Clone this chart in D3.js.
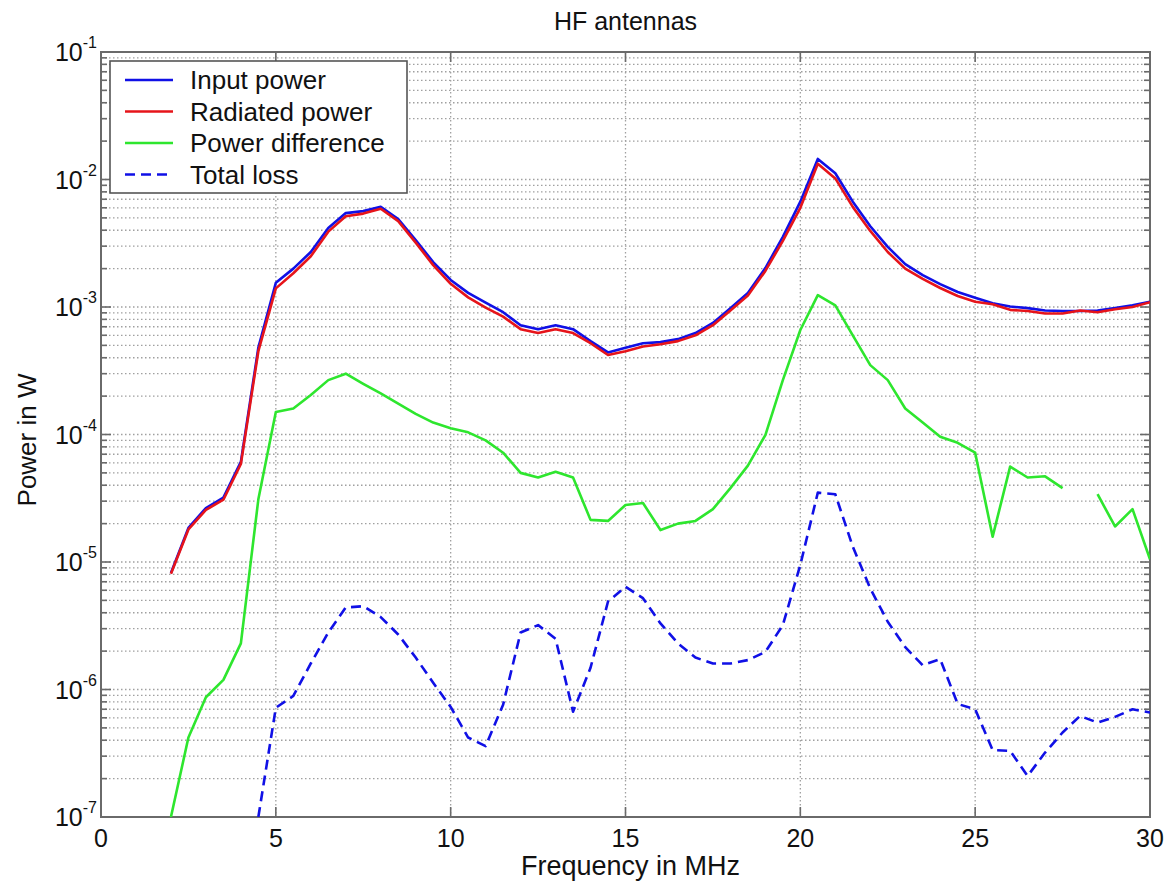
<!DOCTYPE html>
<html>
<head>
<meta charset="utf-8">
<script src="https://cdn.jsdelivr.net/npm/d3@7"></script>
<style>
html,body{margin:0;padding:0;background:#fff;}
svg{display:block;font-family:"Liberation Sans",Arial,sans-serif;}
</style>
</head>
<body>
<svg id="chart" width="1167" height="883"></svg>
<script>
const freq = [2,2.5,3,3.5,4,4.5,5,5.5,6,6.5,7,7.5,8,8.5,9,9.5,10,10.5,11,11.5,12,12.5,13,13.5,14,14.5,15,15.5,16,16.5,17,17.5,18,18.5,19,19.5,20,20.5,21,21.5,22,22.5,23,23.5,24,24.5,25,25.5,26,26.5,27,27.5,28,28.5,29,29.5,30];

const inputPower = [8.2e-6,1.85e-5,2.65e-5,3.2e-5,6.1e-5,4.8e-4,1.55e-3,2.0e-3,2.7e-3,4.17e-3,5.45e-3,5.65e-3,6.1e-3,4.9e-3,3.35e-3,2.25e-3,1.63e-3,1.29e-3,1.08e-3,9.1e-4,7.2e-4,6.7e-4,7.2e-4,6.7e-4,5.4e-4,4.4e-4,4.8e-4,5.2e-4,5.3e-4,5.6e-4,6.25e-4,7.5e-4,9.8e-4,1.29e-3,2.02e-3,3.55e-3,6.7e-3,1.45e-2,1.12e-2,6.7e-3,4.3e-3,2.96e-3,2.17e-3,1.78e-3,1.51e-3,1.31e-3,1.18e-3,1.07e-3,1.01e-3,9.8e-4,9.4e-4,9.3e-4,9.3e-4,9.4e-4,9.8e-4,1.03e-3,1.1e-3];

const radiatedPower = [8.1e-6,1.8e-5,2.56e-5,3.08e-5,5.87e-5,4.5e-4,1.4e-3,1.84e-3,2.5e-3,3.9e-3,5.15e-3,5.4e-3,5.9e-3,4.72e-3,3.2e-3,2.13e-3,1.52e-3,1.19e-3,9.9e-4,8.4e-4,6.7e-4,6.25e-4,6.7e-4,6.25e-4,5.2e-4,4.2e-4,4.5e-4,4.9e-4,5.1e-4,5.4e-4,6.0e-4,7.2e-4,9.4e-4,1.23e-3,1.92e-3,3.3e-3,6.0e-3,1.33e-2,1.02e-2,6.1e-3,3.95e-3,2.7e-3,2.0e-3,1.66e-3,1.41e-3,1.22e-3,1.1e-3,1.05e-3,9.5e-4,9.3e-4,8.9e-4,8.9e-4,9.4e-4,9.1e-4,9.6e-4,1.0e-3,1.09e-3];

const powerDifference = [1.0e-7,4.2e-7,8.7e-7,1.19e-6,2.3e-6,3.1e-5,1.5e-4,1.6e-4,2.04e-4,2.67e-4,3.0e-4,2.5e-4,2.1e-4,1.75e-4,1.45e-4,1.24e-4,1.12e-4,1.04e-4,9.0e-5,7.2e-5,5.0e-5,4.6e-5,5.1e-5,4.6e-5,2.14e-5,2.1e-5,2.8e-5,2.9e-5,1.78e-5,2.0e-5,2.1e-5,2.6e-5,3.8e-5,5.7e-5,9.9e-5,2.67e-4,6.6e-4,1.24e-3,1.03e-3,6.0e-4,3.5e-4,2.67e-4,1.6e-4,1.24e-4,9.6e-5,8.6e-5,7.2e-5,1.58e-5,5.6e-5,4.6e-5,4.7e-5,3.8e-5,null,3.4e-5,1.9e-5,2.6e-5,1.05e-5];

const totalLoss = [null,null,null,null,null,1.0e-7,7.2e-7,8.9e-7,1.6e-6,2.8e-6,4.4e-6,4.5e-6,3.7e-6,2.7e-6,1.78e-6,1.13e-6,7.3e-7,4.2e-7,3.6e-7,7.6e-7,2.8e-6,3.2e-6,2.5e-6,6.7e-7,1.48e-6,4.9e-6,6.4e-6,5.2e-6,3.3e-6,2.3e-6,1.78e-6,1.6e-6,1.6e-6,1.7e-6,1.97e-6,3.2e-6,9.5e-6,3.5e-5,3.4e-5,1.32e-5,6.2e-6,3.4e-6,2.15e-6,1.55e-6,1.73e-6,7.7e-7,7.0e-7,3.35e-7,3.3e-7,2.1e-7,3.2e-7,4.6e-7,6.2e-7,5.5e-7,6.1e-7,7.0e-7,6.6e-7];

const seriesNames = ["Input power","Radiated power","Power difference","Total loss"];
const xTicks = [0,5,10,15,20,25,30];
const yDecades = [-7,-6,-5,-4,-3,-2,-1];
const minorMult = [1,2,3,4,5,6,7,8,9];

const titleText = "HF antennas";
const xLabel = "Frequency in MHz";
const yLabel = "Power in W";

const colors = ["#1010e6","#e6141a","#2ee62e","#1010e6"];
const dashes = [null,null,null,"10,6"];
const seriesData = [inputPower, radiatedPower, powerDifference, totalLoss];

const svg = d3.select("#chart");
const L = 101, R = 1150, T = 52, B = 817;
const x = d3.scaleLinear().domain([0,30]).range([L,R]);
const y = d3.scaleLog().domain([1e-7,1e-1]).range([B,T]);

const gridVals = [];
yDecades.slice(0,-1).forEach(k => minorMult.forEach(m => gridVals.push(m*Math.pow(10,k))));
gridVals.push(1e-1);

const grid = svg.append("g").attr("stroke","#a0a0a0").attr("stroke-width",1.3).attr("stroke-dasharray","1.5,2.5");
grid.selectAll("line.h").data(gridVals.filter(v => v>1e-7 && v<1e-1)).enter().append("line")
  .attr("x1",L).attr("x2",R).attr("y1",d=>y(d)).attr("y2",d=>y(d));
grid.selectAll("line.v").data(xTicks.filter(v=>v>0&&v<30)).enter().append("line")
  .attr("y1",T).attr("y2",B).attr("x1",d=>x(d)).attr("x2",d=>x(d));

const tk = svg.append("g").attr("stroke","#6a6a6a").attr("stroke-width",1.6);
gridVals.forEach(v => {
  const isMajor = Math.abs(Math.log10(v) - Math.round(Math.log10(v))) < 1e-9;
  const len = isMajor ? 10 : 6;
  tk.append("line").attr("x1",L).attr("x2",L+len).attr("y1",y(v)).attr("y2",y(v));
  tk.append("line").attr("x1",R).attr("x2",R-len).attr("y1",y(v)).attr("y2",y(v));
});
xTicks.forEach(v => {
  tk.append("line").attr("x1",x(v)).attr("x2",x(v)).attr("y1",B).attr("y2",B-10);
  tk.append("line").attr("x1",x(v)).attr("x2",x(v)).attr("y1",T).attr("y2",T+10);
});

svg.append("rect").attr("x",L).attr("y",T).attr("width",R-L).attr("height",B-T)
  .attr("fill","none").attr("stroke","#6a6a6a").attr("stroke-width",2);

svg.append("clipPath").attr("id","clip").append("rect").attr("x",L).attr("y",T).attr("width",R-L).attr("height",B-T);

const line = d3.line().defined(d => d[1] != null).x(d => x(d[0])).y(d => y(d[1]));
const plotG = svg.append("g").attr("clip-path","url(#clip)");
seriesData.forEach((s,i) => {
  plotG.append("path")
    .datum(freq.map((f,j) => [f, s[j]]))
    .attr("d", line)
    .attr("fill","none")
    .attr("stroke", colors[i])
    .attr("stroke-width", 2.6)
    .attr("stroke-linejoin","round")
    .attr("stroke-dasharray", dashes[i]);
});

yDecades.forEach(k => {
  const t = svg.append("text").attr("x",97).attr("y",y(Math.pow(10,k))+9)
    .attr("text-anchor","end").attr("fill","#111").attr("font-size",25);
  t.append("tspan").text("10");
  t.append("tspan").attr("font-size",16).attr("dy",-13).text(String(k));
});

svg.append("g").selectAll("text").data(xTicks).enter().append("text")
  .attr("x",d=>x(d)).attr("y",847).attr("text-anchor","middle")
  .attr("font-size",25).attr("fill","#111").text(d=>d);

svg.append("text").attr("x",(L+R)/2).attr("y",30).attr("text-anchor","middle")
  .attr("font-size",25).attr("fill","#111").text(titleText);
svg.append("text").attr("x",(L+R)/2+5).attr("y",875).attr("text-anchor","middle")
  .attr("font-size",27).attr("fill","#111").text(xLabel);
svg.append("text").attr("transform",`translate(36,440) rotate(-90)`).attr("text-anchor","middle")
  .attr("font-size",26).attr("fill","#111").text(yLabel);

const lg = svg.append("g");
lg.append("rect").attr("x",110).attr("y",61).attr("width",297).attr("height",132)
  .attr("fill","#fff").attr("stroke","#555").attr("stroke-width",1.6);
seriesNames.forEach((n,i) => {
  const yy = 80 + i*31.5;
  lg.append("line").attr("x1",125).attr("x2",173).attr("y1",yy).attr("y2",yy)
    .attr("stroke",colors[i]).attr("stroke-width",2.6).attr("stroke-dasharray",dashes[i]);
  lg.append("text").attr("x",190).attr("y",yy+9).attr("font-size",26).attr("fill","#111").text(n);
});
</script>
</body>
</html>
